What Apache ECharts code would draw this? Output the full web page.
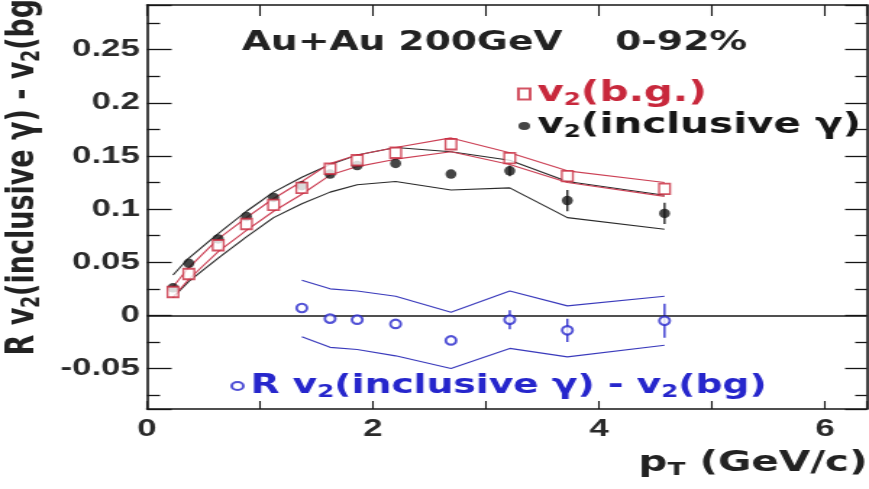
<!DOCTYPE html>
<html>
<head>
<meta charset="utf-8">
<title>v2 inclusive photon vs pT</title>
<script src="https://cdn.jsdelivr.net/npm/echarts@6/dist/echarts.min.js"></script>
<style>
	html, body { margin: 0; padding: 0; background: #fff; overflow: hidden; }
	/* the source figure is stretched sideways, so draw narrow and stretch it the same way */
	#plot { width: 600px; height: 489px; transform: scaleX(1.4483); transform-origin: 0 0; }
</style>
</head>
<body>
<div id="plot"></div>
<script>
	// pT bins (GeV/c)
	var pt = [0.23, 0.37, 0.63, 0.88, 1.12, 1.37, 1.62, 1.86, 2.2, 2.69, 3.21, 3.72, 4.58];

	// v2 of the background (red squares) and its band
	var v2Bg    = [0.022, 0.039, 0.066, 0.086, 0.104, 0.120, 0.138, 0.146, 0.153, 0.161, 0.148, 0.131, 0.119];
	var v2BgUp  = [0.027, 0.045, 0.072, 0.092, 0.110, 0.126, 0.143, 0.151, 0.158, 0.167, 0.153, 0.136, 0.125];
	var v2BgLow = [0.017, 0.034, 0.060, 0.080, 0.098, 0.114, 0.132, 0.140, 0.147, 0.154, 0.142, 0.125, 0.112];

	// v2 of inclusive photons (black dots) and its band
	var v2Inc    = [0.026, 0.049, 0.072, 0.093, 0.111, 0.122, 0.133, 0.141, 0.143, 0.133, 0.136, 0.108, 0.096];
	var v2IncErr = [0, 0, 0, 0, 0, 0, 0, 0, 0, 0, 0.005, 0.010, 0.010];
	var v2IncUp  = [0.038, 0.054, 0.077, 0.098, 0.116, 0.130, 0.142, 0.151, 0.158, 0.154, 0.146, 0.126, 0.113];
	var v2IncLow = [0.017, 0.032, 0.054, 0.074, 0.092, 0.105, 0.116, 0.123, 0.126, 0.118, 0.120, 0.092, 0.081];

	// R v2(incl) - v2(bg) (blue circles) and its band
	var diffPt  = [1.37, 1.62, 1.86, 2.2, 2.69, 3.21, 3.72, 4.58];
	var diff    = [0.007, -0.003, -0.004, -0.008, -0.0235, -0.004, -0.014, -0.005];
	var diffErr = [0, 0, 0, 0, 0, 0.009, 0.011, 0.016];
	var diffUp  = [0.033, 0.025, 0.023, 0.018, 0.003, 0.023, 0.009, 0.018];
	var diffLow = [-0.020, -0.030, -0.032, -0.038, -0.050, -0.031, -0.039, -0.028];

	// labelled ticks
	var xLabelVals = [0, 2, 4, 6];
	var yLabelVals = [-0.05, 0, 0.05, 0.1, 0.15, 0.2, 0.25];

	var FONT = 'DejaVu Sans';
	var RED = '#c8283c', BLACK = '#161616', BLUE = '#2626cc';

	function pairs(xs, ys) {
		return xs.map(function (x, i) { return [x, ys[i]]; });
	}
	function withErr(xs, ys, es) {
		var out = [];
		for (var i = 0; i < xs.length; i++) {
			if (es[i] > 0) out.push([xs[i], ys[i], es[i]]);
		}
		return out;
	}
	function errorBars(color) {
		return function (params, api) {
			var x = api.value(0), y = api.value(1), e = api.value(2);
			var lo = api.coord([x, y - e]);
			var hi = api.coord([x, y + e]);
			return {
				type: 'line',
				shape: { x1: lo[0], y1: lo[1], x2: hi[0], y2: hi[1] },
				style: { stroke: color, lineWidth: 1.3 }
			};
		};
	}
	function onList(v, list) {
		for (var i = 0; i < list.length; i++) {
			if (Math.abs(v - list[i]) < 1e-6) return true;
		}
		return false;
	}
	function sub(size, color) {
		var s = { fontSize: size, fontWeight: 'bold', fontFamily: FONT, lineHeight: size, padding: [13, 0, 0, 0], verticalAlign: 'bottom' };
		if (color) s.color = color;
		return s;
	}
	function band(xs, ys, color) {
		return {
			type: 'line', data: pairs(xs, ys), symbol: 'none', z: 2, silent: true,
			lineStyle: { color: color, width: 1.1 }
		};
	}

	var axisLine = { show: true, onZero: false, lineStyle: { color: BLACK, width: 1.6 } };
	// tick numbers are narrow Helvetica-like digits
	var tickLabel = { fontFamily: 'Liberation Sans', fontWeight: 'bold', fontSize: 24, color: '#2a2a2a' };

	var chart = echarts.init(document.getElementById('plot'));
	var option = {
		animation: false,
		backgroundColor: '#fff',
		title: [
			{
				text: 'Au+Au 200GeV    0-92%',
				left: 167, top: 30, padding: 0,
				textStyle: { fontFamily: FONT, fontWeight: 'bold', fontSize: 26, color: '#222' }
			},
			{
				// x axis title, sits under the right end of the axis
				text: 'p{s|T} (GeV/c)',
				right: 1, top: 449, padding: 0,
				textStyle: {
					fontFamily: FONT, fontWeight: 'bold', fontSize: 28, lineHeight: 30, color: '#222',
					rich: { s: sub(18, '#222') }
				}
			}
		],
		grid: { left: 101.5, right: 1.5, top: 5, bottom: 80, containLabel: false, outerBoundsMode: 'none' },
		legend: [
			{
				orient: 'vertical', left: 352, top: 74, itemGap: 2,
				itemWidth: 8, itemHeight: 11,
				data: [
					{ name: 'v2(b.g.)', textStyle: { color: RED } },
					{ name: 'v2(inclusive γ)', textStyle: { color: BLACK } }
				],
				formatter: function (n) { return n.replace(/v2/g, 'v{s|2}'); },
				textStyle: {
					fontFamily: FONT, fontWeight: 'bold', fontSize: 28, lineHeight: 30,
					rich: { s: sub(17) }
				}
			},
			{
				left: 154, top: 366,
				itemWidth: 8, itemHeight: 9,
				data: [{ name: 'R v2(inclusive γ) - v2(bg)', textStyle: { color: BLUE } }],
				formatter: function (n) { return n.replace(/v2/g, 'v{s|2}'); },
				textStyle: {
					fontFamily: FONT, fontWeight: 'bold', fontSize: 26, lineHeight: 30,
					rich: { s: sub(17) }
				}
			}
		],
		xAxis: [
			{
				type: 'value', position: 'bottom', min: 0, max: 6.37, interval: 1,
				axisLine: axisLine,
				axisTick: { inside: true, length: 8, lineStyle: { color: BLACK, width: 1.1 } },
				axisLabel: Object.assign({
					margin: 8,
					formatter: function (v) { return onList(v, xLabelVals) ? String(v) : ''; }
				}, tickLabel),
				splitLine: { show: false }
			},
			{
				type: 'value', position: 'top', min: 0, max: 6.37, interval: 1,
				axisLine: axisLine,
				axisTick: { inside: true, length: 11, lineStyle: { color: BLACK, width: 1.1 } },
				axisLabel: { show: false },
				splitLine: { show: false }
			}
		],
		yAxis: [
			{
				type: 'value', position: 'left', min: -0.088, max: 0.292,
				minInterval: 0.05, maxInterval: 0.05, splitNumber: 7,
				axisLine: axisLine,
				axisTick: { inside: true, length: 17, lineStyle: { color: BLACK, width: 1.3 } },
				minorTick: { show: true, splitNumber: 2, length: 9, lineStyle: { color: BLACK, width: 1.3 } },
				axisLabel: Object.assign({
					margin: 5,
					formatter: function (v) { return onList(v, yLabelVals) ? String(+v.toFixed(3)) : ''; }
				}, tickLabel),
				splitLine: { show: false },
				name: 'R v{s|2}(inclusive γ) - v{s|2}(bg)',
				nameLocation: 'middle', nameGap: 68,
				nameTextStyle: {
					fontFamily: FONT, fontWeight: 'bold', fontSize: 27, color: '#222',
					lineHeight: 30, padding: [0, 0, 0, 72],
					rich: { s: sub(17, '#222') }
				}
			},
			{
				type: 'value', position: 'right', min: -0.088, max: 0.292,
				minInterval: 0.05, maxInterval: 0.05, splitNumber: 7,
				axisLine: axisLine,
				axisTick: { inside: true, length: 15, lineStyle: { color: BLACK, width: 1.3 } },
				minorTick: { show: true, splitNumber: 2, length: 8, lineStyle: { color: BLACK, width: 1.3 } },
				axisLabel: { show: false },
				splitLine: { show: false }
			}
		],
		series: [
			band(pt, v2IncUp, '#2a2a2a'),
			band(pt, v2IncLow, '#2a2a2a'),
			band(pt, v2BgUp, '#cc4055'),
			band(pt, v2BgLow, '#cc4055'),
			band(diffPt, diffUp, '#3a3abc'),
			band(diffPt, diffLow, '#3a3abc'),
			{
				type: 'custom', renderItem: errorBars(BLACK), z: 3, silent: true,
				encode: { x: 0, y: 1 }, data: withErr(pt, v2Inc, v2IncErr)
			},
			{
				type: 'custom', renderItem: errorBars(BLUE), z: 3, silent: true,
				encode: { x: 0, y: 1 }, data: withErr(diffPt, diff, diffErr)
			},
			{
				name: 'v2(inclusive γ)', type: 'scatter', z: 4,
				data: pairs(pt, v2Inc), symbol: 'circle', symbolSize: [7.6, 9.5],
				itemStyle: { color: BLACK }
			},
			{
				name: 'v2(b.g.)', type: 'scatter', z: 5,
				data: pairs(pt, v2Bg), symbol: 'rect', symbolSize: [7.6, 10.5],
				itemStyle: { color: '#fff', borderColor: RED, borderWidth: 1.6 }
			},
			{
				name: 'R v2(inclusive γ) - v2(bg)', type: 'scatter', z: 5,
				data: pairs(diffPt, diff), symbol: 'circle', symbolSize: [7.2, 8.5],
				itemStyle: { color: '#fff', borderColor: BLUE, borderWidth: 2 },
				markLine: {
					silent: true, symbol: ['none', 'none'], label: { show: false },
					lineStyle: { color: BLACK, width: 1.6, type: 'solid' },
					data: [{ yAxis: 0 }]
				}
			}
		]
	};
	chart.setOption(option);
</script>
</body>
</html>
